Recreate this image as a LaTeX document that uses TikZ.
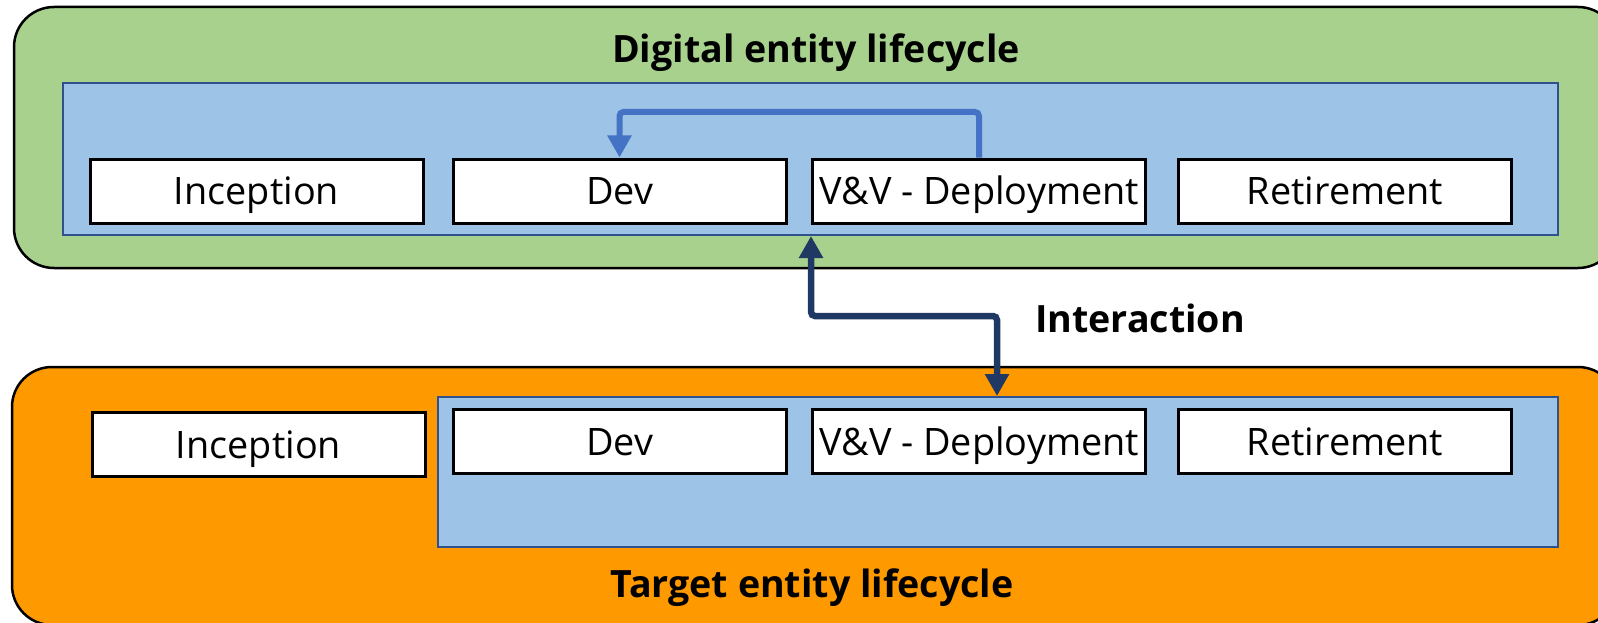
\documentclass[tikz,border=0pt]{standalone}
\usepackage{fontspec}
\setmainfont{Open Sans}
\usetikzlibrary{arrows.meta}
\definecolor{gfill}{HTML}{A9D18E}
\definecolor{ofill}{HTML}{FF9900}
\definecolor{bfill}{HTML}{9DC3E6}
\definecolor{bline}{HTML}{2F528F}
\definecolor{arrowblue}{HTML}{4472C4}
\definecolor{arrowdark}{HTML}{203864}
\begin{document}
\begin{tikzpicture}[x=1pt,y=-1pt,
  outerbox/.style={draw=black,line width=2.5pt,rounded corners=40pt,inner sep=0pt},
  lanebox/.style={draw=bline,line width=2pt,fill=bfill,inner sep=0pt},
  stagebox/.style={draw=black,line width=3pt,fill=white,minimum width=333pt,minimum height=64pt,inner sep=0pt,text height=27pt,text depth=0pt,font=\fontsize{37.8}{45}\selectfont},
  titletext/.style={anchor=base,font=\fontsize{37.6}{45}\selectfont\bfseries,inner sep=0pt},
  loopline/.style={draw=arrowblue,line width=6pt,rounded corners=4pt,-{Triangle[length=22pt,width=23pt]}},
  linkline/.style={draw=arrowdark,line width=6.5pt,rounded corners=4pt,{Triangle[length=22pt,width=23pt]}-{Triangle[length=22pt,width=23pt]}}
]
\useasboundingbox (0,0) rectangle (1598,623);
\clip (0,0) rectangle (1598,623);
% containers
\node[outerbox,fill=gfill,minimum width=1604pt,minimum height=261pt] (digital) at (816,137.5) {};
\node[outerbox,fill=ofill,minimum width=1606pt,minimum height=258pt] (target) at (815,496) {};
\node[lanebox,minimum width=1495pt,minimum height=152pt] (topblue) at (810.5,159) {};
\node[lanebox,minimum width=1120pt,minimum height=150pt] (botblue) at (998,472) {};
% titles
\node[titletext] (dtitle) at (816,63) {Digital entity lifecycle};
\node[titletext] (ttitle) at (812,597) {Target entity lifecycle};
\node[titletext] (itext) at (1140,332) {Interaction};
% top stages
\node[stagebox] (i1) at (256.5,191) {Inception};
\node[stagebox] (d1) at (619.5,191) {Dev};
\node[stagebox] (v1) at (979,191) {V\&V - Deployment};
\node[stagebox] (r1) at (1345,191) {Retirement};
% bottom stages
\node[stagebox] (i2) at (258.5,444.5) {Inception};
\node[stagebox] (d2) at (619.5,441.5) {Dev};
\node[stagebox] (v2) at (979,441.5) {V\&V - Deployment};
\node[stagebox] (r2) at (1345,441.5) {Retirement};
% connectors
\coordinate (loopy) at (0,112);
\draw[loopline] (v1.north) -- (v1.north |- loopy) -| (d1.north);
\coordinate (ia1) at (811,316);
\coordinate (ia2) at (997,316);
\draw[linkline] (ia1 |- topblue.south) -- (ia1) -- (ia2) -- (ia2 |- botblue.north);
\end{tikzpicture}
\end{document}
